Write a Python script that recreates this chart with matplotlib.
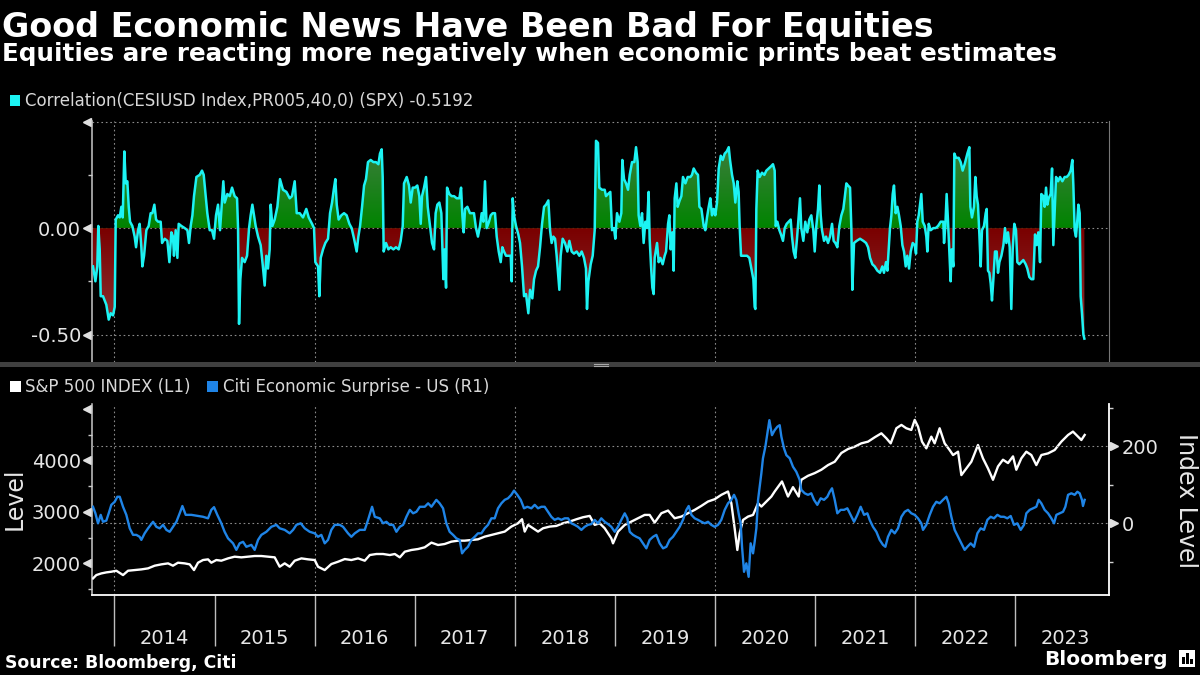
import numpy as np
import matplotlib
matplotlib.use("Agg")
import matplotlib.pyplot as plt
from matplotlib.patches import Rectangle
from matplotlib.lines import Line2D
from matplotlib.colors import to_rgb

# ---- data (x in fractional years) ----
corr_t = [
    2013.786, 2013.810, 2013.829, 2013.839, 2013.853, 2013.863, 2013.886, 2013.919, 2013.943, 2013.963,
    2013.986, 2014.003, 2014.013, 2014.036, 2014.053, 2014.069, 2014.083, 2014.099, 2014.113, 2014.129,
    2014.143, 2014.156, 2014.179, 2014.202, 2014.216, 2014.236, 2014.252, 2014.269, 2014.279, 2014.296,
    2014.319, 2014.342, 2014.362, 2014.379, 2014.399, 2014.416, 2014.436, 2014.462, 2014.476, 2014.502,
    2014.529, 2014.549, 2014.569, 2014.585, 2014.595, 2014.612, 2014.629, 2014.642, 2014.669, 2014.702,
    2014.729, 2014.745, 2014.762, 2014.779, 2014.795, 2014.819, 2014.852, 2014.875, 2014.892, 2014.908,
    2014.928, 2014.952, 2014.975, 2014.995, 2015.015, 2015.035, 2015.055, 2015.072, 2015.088, 2015.102,
    2015.128, 2015.152, 2015.175, 2015.201, 2015.225, 2015.235, 2015.245, 2015.258, 2015.275, 2015.301,
    2015.325, 2015.345, 2015.361, 2015.378, 2015.395, 2015.411, 2015.435, 2015.461, 2015.481, 2015.501,
    2015.518, 2015.534, 2015.551, 2015.561, 2015.578, 2015.601, 2015.628, 2015.654, 2015.684, 2015.718,
    2015.751, 2015.774, 2015.801, 2015.821, 2015.851, 2015.884, 2015.917, 2015.941, 2015.974, 2015.994,
    2016.007, 2016.034, 2016.047, 2016.061, 2016.084, 2016.107, 2016.134, 2016.154, 2016.174, 2016.191,
    2016.207, 2016.221, 2016.240, 2016.267, 2016.294,
    2016.320, 2016.347, 2016.370, 2016.394, 2016.420, 2016.437, 2016.454, 2016.474, 2016.494, 2016.513,
    2016.533, 2016.560, 2016.587, 2016.613, 2016.637, 2016.653, 2016.670, 2016.680, 2016.690, 2016.713,
    2016.737, 2016.760, 2016.787, 2016.813, 2016.840, 2016.860, 2016.880, 2016.893, 2016.920, 2016.943,
    2016.960, 2016.980, 2017.003, 2017.026, 2017.046, 2017.060, 2017.073, 2017.093, 2017.113, 2017.130,
    2017.153, 2017.173, 2017.193, 2017.209, 2017.226, 2017.246, 2017.266, 2017.286, 2017.299, 2017.313,
    2017.323, 2017.346, 2017.369, 2017.393, 2017.419, 2017.446, 2017.463, 2017.476, 2017.489, 2017.503,
    2017.526, 2017.552, 2017.572, 2017.592, 2017.612, 2017.632, 2017.652, 2017.669, 2017.686, 2017.702,
    2017.719, 2017.742, 2017.759, 2017.779, 2017.802, 2017.819, 2017.839, 2017.859, 2017.875, 2017.892,
    2017.912, 2017.935, 2017.959, 2017.969, 2017.979, 2017.992, 2018.012, 2018.035, 2018.052, 2018.072,
    2018.092, 2018.112, 2018.135, 2018.152, 2018.175, 2018.192, 2018.212, 2018.232, 2018.252, 2018.272,
    2018.292, 2018.312, 2018.335, 2018.352, 2018.368, 2018.385, 2018.402, 2018.418, 2018.435, 2018.445,
    2018.458, 2018.478, 2018.501, 2018.525, 2018.545, 2018.568, 2018.591, 2018.618, 2018.645, 2018.668,
    2018.691, 2018.711, 2018.721, 2018.735, 2018.758, 2018.778, 2018.798, 2018.811,
    2018.831, 2018.844, 2018.871, 2018.898, 2018.911, 2018.931, 2018.954, 2018.971, 2018.991, 2019.004,
    2019.021, 2019.044, 2019.064, 2019.074, 2019.091, 2019.111, 2019.131, 2019.148, 2019.171, 2019.194,
    2019.211, 2019.227, 2019.237, 2019.254, 2019.271, 2019.287, 2019.304, 2019.321, 2019.337, 2019.347,
    2019.361, 2019.374, 2019.387, 2019.397, 2019.421, 2019.437, 2019.454, 2019.477, 2019.497, 2019.511,
    2019.531, 2019.544, 2019.557, 2019.574, 2019.587, 2019.597, 2019.614, 2019.627, 2019.647, 2019.664,
    2019.680, 2019.704, 2019.727, 2019.754, 2019.770, 2019.787, 2019.810, 2019.830, 2019.844, 2019.864,
    2019.887, 2019.903, 2019.920, 2019.937, 2019.953, 2019.970, 2019.987, 2020.003, 2020.020, 2020.037,
    2020.057, 2020.077, 2020.097, 2020.117, 2020.137, 2020.150, 2020.170, 2020.187, 2020.203, 2020.223,
    2020.236, 2020.246, 2020.260, 2020.286, 2020.320, 2020.343, 2020.363, 2020.383, 2020.396, 2020.403,
    2020.413, 2020.426, 2020.446, 2020.469, 2020.493, 2020.513, 2020.536, 2020.559, 2020.579, 2020.596,
    2020.606, 2020.623, 2020.643, 2020.659, 2020.679, 2020.696, 2020.716, 2020.736, 2020.756, 2020.769,
    2020.786, 2020.802, 2020.819, 2020.836, 2020.849, 2020.862, 2020.882, 2020.902, 2020.922, 2020.942,
    2020.962, 2020.982, 2020.996, 2021.012, 2021.029, 2021.042, 2021.056, 2021.069, 2021.089, 2021.109,
    2021.129, 2021.149, 2021.169, 2021.185, 2021.202, 2021.222, 2021.242, 2021.262, 2021.282, 2021.295,
    2021.312,
    2021.329, 2021.349, 2021.362, 2021.372, 2021.389, 2021.415, 2021.449, 2021.482, 2021.509, 2021.529,
    2021.549, 2021.572, 2021.595, 2021.622, 2021.648, 2021.672, 2021.688, 2021.708, 2021.722, 2021.735,
    2021.748, 2021.762, 2021.775, 2021.788, 2021.805, 2021.822, 2021.838, 2021.855, 2021.872, 2021.888,
    2021.905, 2021.921, 2021.938, 2021.955, 2021.975, 2021.995, 2022.008, 2022.021, 2022.035, 2022.048,
    2022.061, 2022.075, 2022.095, 2022.111, 2022.121, 2022.135, 2022.155, 2022.181, 2022.204, 2022.228,
    2022.255, 2022.281, 2022.288, 2022.301, 2022.314, 2022.328, 2022.341, 2022.354, 2022.364, 2022.381,
    2022.391, 2022.408, 2022.434, 2022.454, 2022.474, 2022.494, 2022.521, 2022.541, 2022.551, 2022.567,
    2022.587, 2022.601, 2022.614, 2022.627, 2022.641, 2022.654, 2022.667, 2022.687, 2022.704, 2022.714,
    2022.727, 2022.741, 2022.754, 2022.767, 2022.781, 2022.797, 2022.814, 2022.827, 2022.841, 2022.861,
    2022.881, 2022.897, 2022.911, 2022.927, 2022.944, 2022.960, 2022.974, 2022.990, 2023.007, 2023.020,
    2023.040, 2023.060, 2023.080, 2023.104, 2023.120, 2023.140, 2023.160, 2023.180, 2023.197, 2023.213,
    2023.230, 2023.247, 2023.260, 2023.280, 2023.293, 2023.307, 2023.320, 2023.333, 2023.353, 2023.367,
    2023.380, 2023.393, 2023.407, 2023.427, 2023.447, 2023.470, 2023.493, 2023.513, 2023.533, 2023.553,
    2023.570, 2023.580, 2023.593, 2023.606, 2023.620, 2023.630, 2023.643, 2023.653, 2023.666, 2023.680,
    2023.690,
]
corr_v = [
    -0.18, -0.25, -0.18, 0.01, -0.10, -0.32, -0.32, -0.36, -0.43, -0.40,
    -0.41, -0.37, 0.04, 0.06, 0.05, 0.10, 0.05, 0.36, 0.21, 0.22,
    0.10, 0.03, 0.01, -0.04, -0.09, -0.01, 0.02, -0.09, -0.18, -0.13,
    -0.01, 0.01, 0.07, 0.07, 0.11, 0.04, 0.03, 0.03, -0.07, -0.05,
    -0.06, -0.16, -0.02, -0.04, -0.13, -0.01, -0.14, 0.02, 0.01, 0.00,
    -0.01, -0.07, 0.01, 0.06, 0.15, 0.24, 0.25, 0.27, 0.25, 0.17,
    0.07, -0.01, -0.01, -0.05, 0.06, 0.11, -0.01, 0.11, 0.22, 0.12,
    0.16, 0.15, 0.19, 0.15, 0.14, 0.00, -0.45, -0.24, -0.14, -0.16,
    -0.13, 0.00, 0.06, 0.11, 0.06, 0.01, -0.04, -0.08, -0.17, -0.27,
    -0.13, -0.19, -0.10, 0.11, 0.01, 0.04, 0.10, 0.23, 0.18, 0.17,
    0.14, 0.15, 0.22, 0.07, 0.07, 0.05, 0.09, 0.05, 0.02, 0.00,
    -0.16, -0.18, -0.32, -0.14, -0.10, -0.07, -0.05, 0.07, 0.12, 0.18,
    0.23, 0.11, 0.04, 0.06, 0.07,
    0.06, 0.02, 0.00, -0.05, -0.11, -0.04, 0.01, 0.10, 0.20, 0.23,
    0.31, 0.32, 0.31, 0.31, 0.30, 0.35, 0.37, 0.24, -0.11, -0.07,
    -0.10, -0.09, -0.10, -0.09, -0.10, -0.06, 0.01, 0.21, 0.24, 0.20,
    0.12, 0.19, 0.19, 0.20, 0.15, 0.02, 0.15, 0.19, 0.24, 0.10,
    0.01, -0.07, -0.10, 0.07, 0.11, 0.12, 0.07, -0.24, -0.10, -0.28,
    0.19, 0.16, 0.15, 0.15, 0.14, 0.14, 0.19, 0.06, -0.02, 0.09,
    0.10, 0.07, 0.07, 0.07, 0.00, -0.04, 0.01, 0.07, 0.03, 0.22,
    0.00, 0.03, 0.06, 0.07, 0.07, -0.04, -0.11, -0.16, -0.09, -0.11,
    -0.13, -0.13, -0.13, -0.25, 0.14, 0.06, 0.01, -0.03, -0.07, -0.18,
    -0.32, -0.31, -0.40, -0.29, -0.33, -0.24, -0.20, -0.18, -0.09, 0.02,
    0.10, 0.11, 0.13, -0.01, -0.07, -0.04, -0.05, -0.13, -0.23, -0.29,
    -0.13, -0.05, -0.07, -0.11, -0.06, -0.11, -0.12, -0.11, -0.13, -0.11,
    -0.14, -0.19, -0.38, -0.25, -0.17, -0.13, -0.01, 0.41,
    0.40, 0.19, 0.18, 0.18, 0.15, 0.16, 0.17, -0.01, 0.00, -0.05,
    0.07, 0.03, 0.07, 0.32, 0.23, 0.21, 0.18, 0.25, 0.31, 0.31,
    0.38, 0.31, 0.06, 0.01, 0.07, -0.07, 0.03, 0.00, 0.17, -0.05,
    -0.18, -0.28, -0.31, -0.14, -0.07, -0.16, -0.14, -0.17, -0.13, -0.11,
    0.02, 0.06, -0.10, -0.02, -0.20, 0.14, 0.21, 0.10, 0.13, 0.15,
    0.24, 0.21, 0.24, 0.24, 0.25, 0.28, 0.26, 0.25, 0.10, 0.09,
    0.01, -0.01, 0.05, 0.10, 0.14, 0.06, 0.09, 0.06, 0.12, 0.28,
    0.34, 0.32, 0.35, 0.36, 0.38, 0.32, 0.25, 0.21, 0.12, 0.22,
    0.17, 0.01, -0.13, -0.13, -0.13, -0.14, -0.19, -0.24, -0.37, -0.38,
    0.09, 0.27, 0.24, 0.26, 0.25, 0.27, 0.28, 0.29, 0.30, 0.27,
    0.01, 0.03, -0.01, -0.03, -0.06, 0.00, 0.02, 0.03, 0.04, -0.04,
    -0.11, -0.14, -0.05, 0.06, 0.14, 0.00, -0.06, 0.03, -0.02, 0.04,
    0.06, -0.01, -0.11, 0.01, 0.09, 0.20, 0.06, -0.01, -0.06, -0.04,
    -0.07, -0.04, 0.02, -0.06, -0.07, -0.09, 0.01, 0.06, 0.09, 0.14,
    0.21,
    0.20, 0.19, 0.00, -0.29, -0.07, -0.06, -0.05, -0.06, -0.07, -0.09,
    -0.14, -0.17, -0.18, -0.20, -0.21, -0.18, -0.21, -0.16, -0.20, -0.10,
    0.00, 0.06, 0.16, 0.20, 0.07, 0.10, 0.06, 0.01, -0.08, -0.11,
    -0.18, -0.13, -0.19, -0.11, -0.07, -0.08, -0.12, 0.03, 0.06, 0.11,
    0.16, 0.03, 0.01, -0.04, -0.11, 0.02, -0.01, 0.00, 0.00, 0.01,
    0.03, 0.03, -0.07, 0.01, 0.16, 0.03, -0.11, -0.25, -0.10, -0.18,
    0.35, 0.33, 0.33, 0.31, 0.27, 0.30, 0.35, 0.38, 0.10, 0.05,
    0.10, 0.24, 0.15, 0.11, -0.03, -0.18, -0.01, 0.01, 0.07, 0.09,
    -0.20, -0.21, -0.26, -0.34, -0.24, -0.11, -0.11, -0.21, -0.16, -0.13,
    -0.08, 0.00, -0.07, -0.02, -0.09, -0.38, -0.10, 0.02, -0.01, -0.16,
    -0.17, -0.16, -0.15, -0.17, -0.19, -0.23, -0.24, -0.24, -0.03, -0.08,
    -0.02, -0.16, 0.16, 0.15, 0.10, 0.19, 0.11, 0.14, 0.16, 0.28,
    -0.08, 0.07, 0.24, 0.22, 0.24, 0.22, 0.24, 0.24, 0.25, 0.27,
    0.32, 0.20, -0.01, -0.04, 0.04, 0.11, 0.07, -0.32, -0.40, -0.50,
    -0.5192,
]

spx_t = [
    2013.786, 2013.819, 2013.869, 2013.919, 2013.969, 2014.019, 2014.086, 2014.136, 2014.202, 2014.269,
    2014.336, 2014.402, 2014.469, 2014.536, 2014.585, 2014.635, 2014.702, 2014.752, 2014.795, 2014.835,
    2014.885, 2014.935, 2014.968, 2015.018, 2015.068, 2015.135, 2015.201, 2015.268, 2015.335, 2015.401,
    2015.468, 2015.535, 2015.601, 2015.651, 2015.701, 2015.751, 2015.801, 2015.868, 2015.935, 2016.001,
    2016.034, 2016.101, 2016.167, 2016.234, 2016.301, 2016.367, 2016.434, 2016.501, 2016.551, 2016.617,
    2016.684, 2016.751, 2016.801, 2016.851, 2016.901, 2016.967, 2017.034, 2017.100, 2017.167, 2017.233,
    2017.299, 2017.366, 2017.433, 2017.499, 2017.566, 2017.632, 2017.699, 2017.766, 2017.832, 2017.899,
    2017.965, 2018.032, 2018.072, 2018.099, 2018.132, 2018.182, 2018.232, 2018.282, 2018.348, 2018.415,
    2018.482, 2018.548, 2018.615, 2018.681, 2018.748, 2018.798, 2018.848, 2018.898, 2018.964, 2018.981,
    2019.031, 2019.098, 2019.164, 2019.231, 2019.297, 2019.347, 2019.397, 2019.464, 2019.531, 2019.597,
    2019.664, 2019.730, 2019.797, 2019.864, 2019.930, 2019.997, 2020.063, 2020.130, 2020.163, 2020.196,
    2020.223, 2020.246, 2020.280, 2020.330, 2020.380, 2020.430, 2020.463, 2020.513, 2020.563, 2020.596,
    2020.669, 2020.729, 2020.779, 2020.836, 2020.862, 2020.929, 2020.996, 2021.062, 2021.129, 2021.196,
    2021.262, 2021.329, 2021.395, 2021.462, 2021.529, 2021.595, 2021.662, 2021.712, 2021.755, 2021.812,
    2021.862, 2021.911, 2021.961, 2021.995, 2022.028, 2022.068, 2022.111, 2022.161, 2022.194, 2022.244,
    2022.294, 2022.344, 2022.378, 2022.428, 2022.461, 2022.511, 2022.561, 2022.627, 2022.677, 2022.727,
    2022.777, 2022.827, 2022.877, 2022.927, 2022.977, 2023.010, 2023.060, 2023.110, 2023.160, 2023.210,
    2023.260, 2023.327, 2023.393, 2023.460, 2023.527, 2023.576, 2023.626, 2023.660, 2023.693,
]
spx_v = [
    1708, 1773, 1805, 1825, 1838, 1857, 1773, 1857, 1870, 1883,
    1903, 1955, 1981, 2000, 1955, 2013, 2000, 1981, 1870, 2013,
    2065, 2078, 2013, 2065, 2052, 2097, 2130, 2117, 2130, 2143,
    2143, 2130, 2117, 1935, 2000, 1935, 2052, 2097, 2078, 2065,
    1935, 1870, 1987, 2032, 2084, 2065, 2097, 2052, 2162, 2182,
    2182, 2162, 2182, 2117, 2227, 2260, 2279, 2312, 2403, 2357,
    2376, 2422, 2441, 2441, 2454, 2467, 2519, 2552, 2584, 2617,
    2714, 2779, 2857, 2617, 2747, 2682, 2617, 2682, 2714, 2727,
    2779, 2812, 2857, 2896, 2922, 2747, 2779, 2682, 2487, 2389,
    2617, 2747, 2812, 2876, 2941, 2941, 2792, 2974, 3026, 2876,
    2909, 2974, 3039, 3117, 3201, 3246, 3331, 3396, 3168, 2682,
    2260, 2584, 2844, 2909, 2941, 3168, 3103, 3201, 3298, 3396,
    3591, 3298, 3480, 3298, 3623, 3701, 3753, 3818, 3909, 3974,
    4143, 4221, 4266, 4331, 4364, 4448, 4526, 4429, 4331, 4624,
    4689, 4624, 4591, 4786, 4656, 4364, 4234, 4461, 4331, 4624,
    4331, 4201, 4104, 4169, 3714, 3844, 3974, 4299, 4039, 3844,
    3623, 3883, 4013, 3948, 4078, 3818, 4039, 4169, 4104, 3909,
    4104, 4136, 4201, 4364, 4494, 4559, 4461, 4396, 4494,
]

cesi_t = [
    2013.786, 2013.810, 2013.836, 2013.863, 2013.886, 2013.919, 2013.943, 2013.969, 2014.003, 2014.029,
    2014.053, 2014.086, 2014.119, 2014.153, 2014.186, 2014.219, 2014.252, 2014.269, 2014.302, 2014.336,
    2014.386, 2014.419, 2014.452, 2014.486, 2014.519, 2014.552, 2014.585, 2014.619, 2014.652, 2014.679,
    2014.712, 2014.769, 2014.835, 2014.885, 2014.935, 2014.968, 2014.995, 2015.028, 2015.068, 2015.101,
    2015.135, 2015.185, 2015.218, 2015.251, 2015.285, 2015.318, 2015.368, 2015.401, 2015.435, 2015.468,
    2015.518, 2015.568, 2015.618, 2015.651, 2015.701, 2015.751, 2015.785, 2015.818, 2015.861, 2015.901,
    2015.951, 2016.001, 2016.034, 2016.067, 2016.101, 2016.134, 2016.167, 2016.201, 2016.251, 2016.284,
    2016.334, 2016.367, 2016.401, 2016.451, 2016.501, 2016.534, 2016.574, 2016.601, 2016.651, 2016.684,
    2016.717, 2016.751, 2016.784, 2016.817, 2016.851, 2016.884, 2016.917, 2016.951, 2016.984, 2017.017,
    2017.051, 2017.100, 2017.134, 2017.167, 2017.216, 2017.249, 2017.283, 2017.316, 2017.349, 2017.383,
    2017.416, 2017.449, 2017.473, 2017.499, 2017.532, 2017.566, 2017.599, 2017.632, 2017.666, 2017.699,
    2017.732, 2017.766, 2017.799, 2017.832, 2017.866, 2017.899, 2017.932, 2017.965, 2017.992, 2018.025,
    2018.059, 2018.092, 2018.125, 2018.165, 2018.199, 2018.232, 2018.265, 2018.298, 2018.332, 2018.365,
    2018.398, 2018.432, 2018.465, 2018.498, 2018.532, 2018.565, 2018.598, 2018.631, 2018.665, 2018.698,
    2018.731, 2018.765, 2018.798, 2018.831, 2018.864, 2018.898, 2018.931, 2018.964, 2018.998, 2019.031,
    2019.064, 2019.098, 2019.124, 2019.148, 2019.181, 2019.214, 2019.247, 2019.281, 2019.314, 2019.347,
    2019.381, 2019.414, 2019.447, 2019.481, 2019.514, 2019.547, 2019.580, 2019.614, 2019.647, 2019.680,
    2019.714, 2019.737, 2019.764, 2019.797, 2019.830, 2019.864, 2019.897, 2019.930, 2019.963, 2019.997,
    2020.030, 2020.063, 2020.097, 2020.130, 2020.163, 2020.190, 2020.213, 2020.236, 2020.256, 2020.270,
    2020.290, 2020.313, 2020.336, 2020.356, 2020.380, 2020.396, 2020.413, 2020.430, 2020.446, 2020.463,
    2020.479, 2020.503, 2020.523, 2020.543, 2020.569, 2020.596, 2020.623, 2020.646, 2020.663, 2020.689,
    2020.713, 2020.746, 2020.779, 2020.812, 2020.846, 2020.862, 2020.896, 2020.929, 2020.962, 2020.989,
    2021.022, 2021.056, 2021.089, 2021.122, 2021.146, 2021.169, 2021.196, 2021.222, 2021.255, 2021.289,
    2021.322, 2021.355, 2021.389, 2021.422, 2021.455, 2021.489, 2021.522, 2021.545, 2021.578, 2021.612,
    2021.645, 2021.678, 2021.702, 2021.728, 2021.762, 2021.795, 2021.828, 2021.862, 2021.895, 2021.928,
    2021.961, 2021.995, 2022.028, 2022.061, 2022.078, 2022.111, 2022.145, 2022.178, 2022.211, 2022.244,
    2022.278, 2022.311, 2022.334, 2022.361, 2022.394, 2022.428, 2022.461, 2022.494, 2022.521, 2022.554,
    2022.588, 2022.621, 2022.654, 2022.687, 2022.721, 2022.754, 2022.787, 2022.821, 2022.854, 2022.887,
    2022.920, 2022.954, 2022.987, 2023.020, 2023.054, 2023.087, 2023.110, 2023.144, 2023.177, 2023.210,
    2023.233, 2023.260, 2023.293, 2023.327, 2023.360, 2023.387, 2023.410, 2023.443, 2023.477, 2023.500,
    2023.527, 2023.560, 2023.593, 2023.620, 2023.643, 2023.666, 2023.676, 2023.693,
]
cesi_v = [
    43, 26, 0, 22, 4, 7, 26, 48, 56, 69,
    69, 43, 22, -13, -30, -30, -35, -43, -26, -13,
    4, -9, -13, -4, -17, -22, -9, 4, 26, 45,
    22, 22, 19, 17, 13, 35, 42, 22, 0, -22,
    -39, -52, -69, -52, -48, -61, -56, -69, -43, -30,
    -22, -9, -4, -13, -17, -26, -17, -4, 0, -13,
    -22, -26, -35, -30, -52, -43, -17, -4, -4, -9,
    -26, -35, -26, -17, -17, 9, 43, 17, 13, 0,
    4, -4, -4, -22, -9, -4, 17, 35, 26, 30,
    43, 43, 52, 43, 61, 52, 39, 0, -22, -30,
    -39, -43, -78, -69, -61, -43, -35, -26, -26, -13,
    -4, 13, 13, 39, 52, 61, 65, 74, 85, 74,
    61, 39, 43, 39, 48, 39, 43, 43, 30, 17,
    9, 13, 9, 13, 13, 0, -4, -9, -17, -9,
    -4, -2, 9, 0, 13, 4, -2, -9, -22, -9,
    9, 26, 13, -22, -30, -35, -39, -52, -65, -43,
    -35, -30, -52, -65, -61, -43, -35, -22, -9, 9,
    35, 45, 22, 13, 9, 4, 0, 4, -4, -9,
    -4, 9, 35, 52, 61, 74, 61, 26, 0, -61,
    -126, -104, -139, -52, -78, -48, -13, 61, 95, 130,
    169, 199, 234, 268, 229, 242, 251, 255, 225, 195,
    177, 169, 147, 134, 113, 87, 78, 74, 78, 61,
    48, 65, 61, 69, 82, 91, 61, 26, 35, 35,
    39, 22, 4, 22, 43, 22, 26, 9, -9, -22,
    -43, -56, -61, -35, -17, -26, -13, 17, 30, 35,
    26, 22, 13, 0, -17, -4, 22, 43, 56, 52,
    61, 69, 52, 17, -17, -35, -52, -69, -61, -52,
    -61, -26, -13, -17, 9, 17, 13, 22, 17, 17,
    13, 19, -4, 0, -17, -4, 26, 35, 39, 43,
    61, 52, 35, 26, 13, 0, 22, 26, 30, 43,
    74, 78, 74, 82, 78, 61, 45, 61,
]

years = list(range(2014, 2024))
grid_years = [2014, 2016, 2018, 2020, 2022]

title = "Good Economic News Have Been Bad For Equities"
subtitle = "Equities are reacting more negatively when economic prints beat estimates"

assert len(corr_t) == len(corr_v)
assert len(spx_t) == len(spx_v)
assert len(cesi_t) == len(cesi_v)

# ---- styling ----
CYAN = "#1CF3F3"
BLUE = "#1F84E6"
TXT = "#E6E6E6"
GRID = "#8A8A8A"
DOT = (0, (1.5, 2.5))
W, H = 1200, 675
X0, X1 = 2013.776, 2023.936

plt.rcParams["font.family"] = ["DejaVu Sans"]

fig = plt.figure(figsize=(12, 6.75), dpi=100, facecolor="black")


def fx(p):
    return p / W


def fy(p):
    return 1 - p / H


# ---------------- top panel: correlation ----------------
ax1 = fig.add_axes([fx(92), fy(362), fx(1109) - fx(92), fy(121) - fy(362)])
ax1.set_facecolor("black")
Y0, Y1 = -0.629, 0.503

t = np.array(corr_t)
v = np.array(corr_v)

# gradient fill between series and zero, clipped to the area
area = ax1.fill_between(t, v, 0, facecolor="none", edgecolor="none", lw=0)
clip = area.get_paths()[0]
g0, g1 = np.array(to_rgb("#008400")), np.array(to_rgb("#3F7D3F"))
r0, r1 = np.array(to_rgb("#7A0000")), np.array(to_rgb("#8C3535"))
ys = np.linspace(Y0, Y1, 500)
img = np.zeros((len(ys), 1, 3))
for i, y in enumerate(ys):
    if y >= 0:
        f = min(y / 0.4, 1.0)
        img[i, 0] = (1 - f) * g0 + f * g1
    else:
        f = min(-y / 0.5, 1.0)
        img[i, 0] = (1 - f) * r0 + f * r1
im = ax1.imshow(img, extent=[X0, X1, Y0, Y1], origin="lower", aspect="auto",
                interpolation="bilinear", zorder=1)
im.set_clip_path(clip, transform=ax1.transData)

ax1.plot(t, v, color=CYAN, lw=1.8, zorder=3)

ax1.set_xlim(X0, X1)
ax1.set_ylim(Y0, Y1)
ax1.set_xticks(grid_years)
ax1.set_xticklabels([])
ax1.tick_params(axis="x", length=0)
ax1.set_yticks([-0.5, 0, 0.5])
ax1.set_yticklabels(["-0.50", "0.00", ""])
ax1.set_yticks([-0.25, 0.25], minor=True)
ax1.tick_params(axis="y", which="major", length=0, pad=8, labelsize=14, labelcolor=TXT)
ax1.tick_params(axis="y", which="minor", length=3, width=1, color="#C8C8C8")
ax1.grid(True, color=GRID, lw=0.8, ls=DOT)
ax1.set_axisbelow(True)
for s in ["top", "bottom"]:
    ax1.spines[s].set_visible(False)
ax1.spines["left"].set_color("#C8C8C8")
ax1.spines["left"].set_linewidth(1.1)
ax1.spines["right"].set_color("#777777")
ax1.spines["right"].set_linewidth(0.8)
ax1.plot([-0.0045] * 3, [-0.5, 0, 0.5], ls="none", marker="<", ms=5.5,
         color="#E0E0E0", transform=ax1.get_yaxis_transform(), clip_on=False)

# ---------------- bottom panel: S&P + CESI ----------------
ax2 = fig.add_axes([fx(92), fy(595.3), fx(1109) - fx(92), fy(404) - fy(595.3)])
ax2.set_facecolor("black")
for yr in grid_years:
    ax2.axvline(yr, color=GRID, lw=0.8, ls=DOT, zorder=0)
ax2.plot(spx_t, spx_v, color="white", lw=1.7, zorder=3)
ax2.set_xlim(X0, X1)
ax2.set_ylim(1380, 5095)

ax2.set_xticks(years)
ax2.set_xticklabels([])
ax2.set_xticks([y + 0.5 for y in years], labels=[str(y) for y in years], minor=True)
ax2.tick_params(axis="x", which="major", length=37, width=1, color="#BDBDBD", direction="out")
ax2.tick_params(axis="x", which="minor", length=0, pad=24, labelsize=14, labelcolor=TXT)

ax2.set_yticks([2000, 3000, 4000, 5000])
ax2.set_yticklabels(["2000", "3000", "4000", ""])
ax2.set_yticks([1500, 2500, 3500, 4500], minor=True)
ax2.tick_params(axis="y", which="major", length=0, pad=8, labelsize=14, labelcolor=TXT)
ax2.tick_params(axis="y", which="minor", length=3, width=1, color="#C8C8C8")
ax2.spines["top"].set_visible(False)
ax2.spines["right"].set_visible(False)
ax2.spines["left"].set_color("#C8C8C8")
ax2.spines["left"].set_linewidth(1.1)
ax2.spines["bottom"].set_color("white")
ax2.spines["bottom"].set_linewidth(1.3)
ax2.plot([-0.0045] * 4, [2000, 3000, 4000, 5000], ls="none", marker="<", ms=5.5,
         color="#E0E0E0", transform=ax2.get_yaxis_transform(), clip_on=False)

ax2r = ax2.twinx()
ax2r.plot(cesi_t, cesi_v, color=BLUE, lw=1.7, zorder=3)
ax2r.set_ylim(-187, 310)
ax2r.set_xlim(X0, X1)
ax2r.set_yticks([0, 200])
ax2r.set_yticks([-100, 100, 300], minor=True)
ax2r.tick_params(axis="y", which="major", length=0, pad=9, labelsize=14, labelcolor=TXT)
ax2r.tick_params(axis="y", which="minor", length=3, width=1, color="#D0D0D0")
ax2r.grid(True, axis="y", color=GRID, lw=0.8, ls=DOT, zorder=0)
ax2r.set_axisbelow(True)
for s in ["top", "left", "bottom"]:
    ax2r.spines[s].set_visible(False)
ax2r.spines["right"].set_color("white")
ax2r.spines["right"].set_linewidth(1.3)
ax2r.plot([1.0045] * 2, [0, 200], ls="none", marker=">", ms=5.5,
          color="#E0E0E0", transform=ax2r.get_yaxis_transform(), clip_on=False)

fig.text(fx(15), fy(499), "Level", rotation=90, ha="center", va="center",
         fontsize=17, color=TXT)
fig.text(fx(1186), fy(501), "Index Level", rotation=270, ha="center", va="center",
         fontsize=17, color=TXT)

# ---------------- titles, legends, footer ----------------
fig.text(fx(2), fy(36.5), title, fontsize=24, fontweight="bold", color="white", va="baseline")
fig.text(fx(2), fy(61), subtitle, fontsize=17.7, fontweight="bold", color="white", va="baseline")


def sq(x, y, w, h, c):
    fig.add_artist(Rectangle((fx(x), fy(y + h)), w / W, h / H, color=c,
                             transform=fig.transFigure, lw=0))


sq(9.5, 95, 10.5, 11, CYAN)
fig.text(fx(25), fy(106.5),
         f"Correlation(CESIUSD Index,PR005,40,0) (SPX) {corr_v[-1]:.4f}",
         fontsize=12, color="#D8D8D8", va="baseline")
sq(9.5, 380.5, 11, 11, "white")
fig.text(fx(25), fy(391.5), "S&P 500 INDEX (L1)", fontsize=12, color="#D8D8D8", va="baseline")
sq(207, 380.5, 11, 11, BLUE)
fig.text(fx(223), fy(391.5), "Citi Economic Surprise - US (R1)", fontsize=12,
         color="#D8D8D8", va="baseline")

# panel separator with grab handle
fig.add_artist(Rectangle((0, fy(367)), 1, 5 / H, color="#404040",
                         transform=fig.transFigure, lw=0))
for yy in (363.6, 365.6):
    fig.add_artist(Line2D([fx(594), fx(608)], [fy(yy), fy(yy)], color="#A8A8A8",
                          lw=0.8, transform=fig.transFigure))

fig.text(fx(5), fy(667.5), "Source: Bloomberg, Citi", fontsize=12.4, fontweight="bold",
         color="white", va="baseline")
fig.text(fx(1168), fy(665), "Bloomberg", fontsize=14.5, fontweight="bold",
         color="white", va="baseline", ha="right")
sq(1179, 650, 16, 17, "white")
for bx, bh in ((1182, 7), (1186, 11), (1190, 5)):
    sq(bx, 664 - bh, 2.5, bh, "black")

fig.savefig("out.png", dpi=100, facecolor="black")
